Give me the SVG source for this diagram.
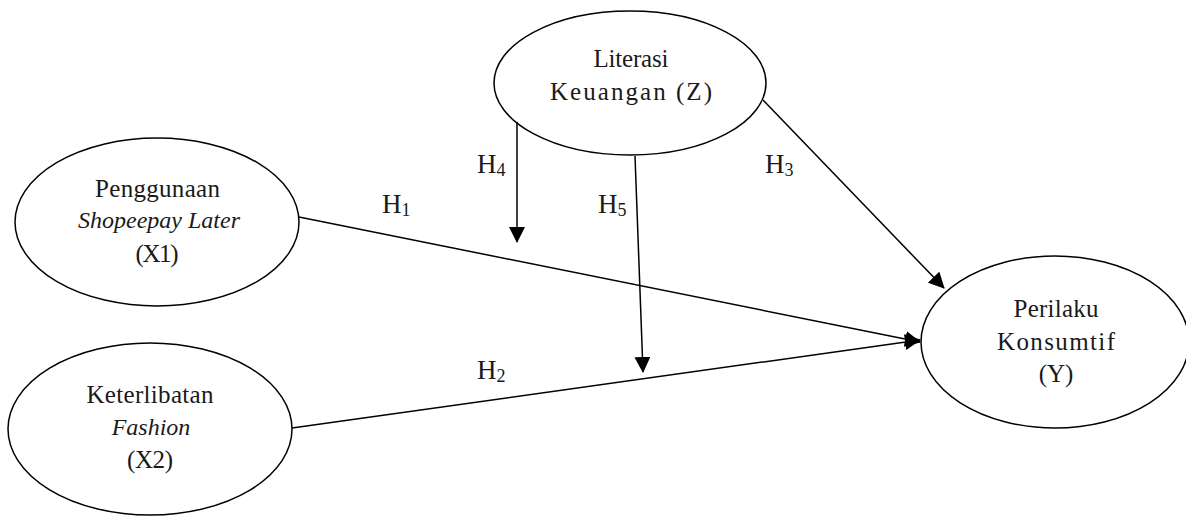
<svg xmlns="http://www.w3.org/2000/svg" width="1186" height="517" viewBox="0 0 1186 517">
<style>
.n{fill:#fff;stroke:#000;stroke-width:1.5}
text{font-family:'Liberation Serif','Times New Roman',serif;fill:#1a1a1a}
.t{font-size:25px;text-anchor:middle}
.i{font-style:italic;font-size:24px}
.c{stroke:#000;stroke-width:1.5;fill:none}
.h{font-size:27px}
.s{font-size:18px}
</style>
<defs>
<marker id="a" markerUnits="userSpaceOnUse" markerWidth="16" markerHeight="16" viewBox="0 0 16 16" refX="15" refY="8" orient="auto">
<path d="M0,0 L16,8 L0,16 Z" fill="#000"/>
</marker>
</defs>
<g id="x1"><ellipse class="n" cx="157" cy="222" rx="142" ry="84"/>
<text class="t" x="157.5" y="197" textLength="125" lengthAdjust="spacing">Penggunaan</text>
<text class="t i" x="159" y="228">Shopeepay Later</text>
<text class="t" x="157" y="262" textLength="43" lengthAdjust="spacing">(X1)</text></g>
<g id="x2"><ellipse class="n" cx="150" cy="429" rx="142" ry="86"/>
<text class="t" x="150" y="403" textLength="127" lengthAdjust="spacing">Keterlibatan</text>
<text class="t i" x="151" y="435">Fashion</text>
<text class="t" x="150" y="468" textLength="46" lengthAdjust="spacing">(X2)</text></g>
<g id="z"><ellipse class="n" cx="630" cy="83" rx="136" ry="72"/>
<text class="t" x="631" y="67" textLength="75" lengthAdjust="spacing">Literasi</text>
<text class="t" x="631" y="100" textLength="162" lengthAdjust="spacing">Keuangan (Z)</text></g>
<g id="y"><ellipse class="n" cx="1055" cy="342" rx="134" ry="86"/>
<text class="t" x="1056" y="317" textLength="85" lengthAdjust="spacing">Perilaku</text>
<text class="t" x="1056" y="350" textLength="118" lengthAdjust="spacing">Konsumtif</text>
<text class="t" x="1056" y="382">(Y)</text></g>
<g id="edges">
<line class="c" x1="299" y1="217" x2="920" y2="342" marker-end="url(#a)"/>
<line class="c" x1="292" y1="428" x2="920" y2="340" marker-end="url(#a)"/>
<line class="c" x1="763" y1="100" x2="944" y2="288" marker-end="url(#a)"/>
<line class="c" x1="517" y1="122" x2="517" y2="242" marker-end="url(#a)"/>
<line class="c" x1="635" y1="156" x2="643" y2="372" marker-end="url(#a)"/>
</g>
<g id="labels">
<text class="h" x="382" y="213">H<tspan class="s" dy="3">1</tspan></text>
<text class="h" x="477" y="379">H<tspan class="s" dy="3">2</tspan></text>
<text class="h" x="765" y="173">H<tspan class="s" dy="3">3</tspan></text>
<text class="h" x="477" y="173">H<tspan class="s" dy="3">4</tspan></text>
<text class="h" x="598" y="213">H<tspan class="s" dy="3">5</tspan></text>
</g>
</svg>
